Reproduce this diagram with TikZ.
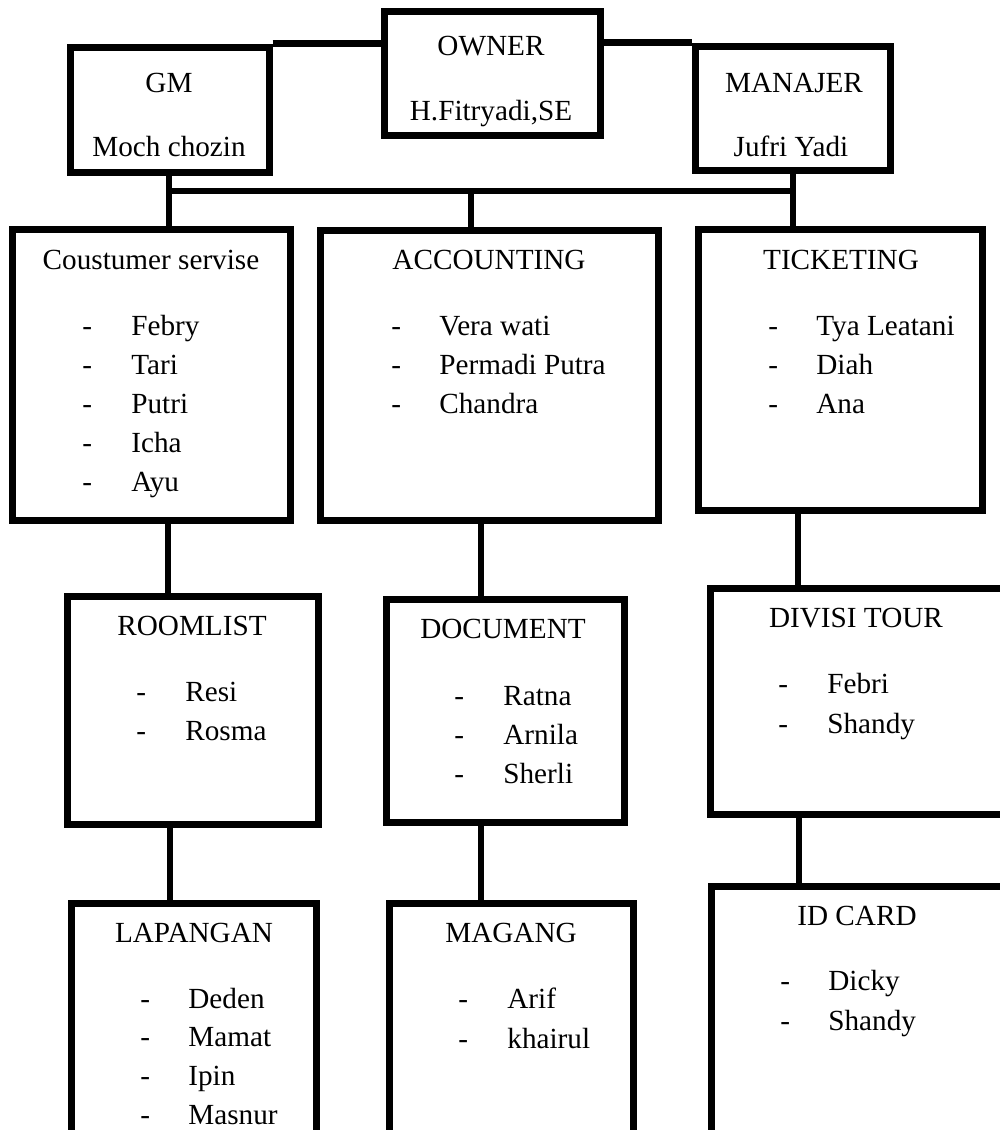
\documentclass[tikz,border=0pt]{standalone}
\usepackage{fontspec}
\setmainfont{Liberation Serif}
\usetikzlibrary{fit}
\begin{document}
\begin{tikzpicture}[x=0.5pt,y=-0.5pt,
  box/.style={draw, line width=3.5pt, inner sep=0pt},
  link/.style={line width=3.3pt},
  lbl/.style={inner sep=0pt, anchor=base, font=\fontsize{14.6}{17}\selectfont},
  itm/.style={inner sep=0pt, anchor=base west, font=\fontsize{14.6}{17}\selectfont}]
\useasboundingbox (0,0) rectangle (1000,1130);
\clip (0,0) rectangle (1000,1130);
% boxes
\node[box, fit={(70,47) (269,172)}] (gm) {};
\node[box, fit={(384,11) (600,135)}] (owner) {};
\node[box, fit={(695,46) (890,170)}] (man) {};
\node[box, fit={(12,229) (290,520)}] (cs) {};
\node[box, fit={(320,230) (658,520)}] (acc) {};
\node[box, fit={(698,229) (982,510)}] (tick) {};
\node[box, fit={(67,596) (318,824)}] (room) {};
\node[box, fit={(386,599) (624,822)}] (doc) {};
\node[box, fit={(710,588) (1020,814)}] (tour) {};
\node[box, fit={(71,903) (316,1150)}] (lap) {};
\node[box, fit={(389,903) (633,1150)}] (mag) {};
\node[box, fit={(711,886) (1020,1150)}] (idc) {};
% connector coordinates
\coordinate (b1) at (169,191);
\coordinate (b2) at (471,191);
\coordinate (b3) at (793,191);
\coordinate (c1) at (168,0);
\coordinate (c2) at (481,0);
\coordinate (c3) at (798,0);
\coordinate (d1) at (170,0);
\coordinate (d2) at (481,0);
\coordinate (d3) at (799,0);
% connectors
\draw[link] (gm.north east) -- (owner.west |- gm.north east);
\draw[link] (owner.east |- man.north west) -- (man.north west);
\draw[link] (gm.south -| b1) -- (cs.north -| b1);
\draw[link] (b1) -- (b3);
\draw[link] (man.south -| b3) -- (tick.north -| b3);
\draw[link] (b2) -- (acc.north -| b2);
\draw[link] (cs.south -| c1) -- (room.north -| c1);
\draw[link] (acc.south -| c2) -- (doc.north -| c2);
\draw[link] (tick.south -| c3) -- (tour.north -| c3);
\draw[link] (room.south -| d1) -- (lap.north -| d1);
\draw[link] (doc.south -| d2) -- (mag.north -| d2);
\draw[link] (tour.south -| d3) -- (idc.north -| d3);
% titles
\node[lbl] (tgm) at (169,92) {GM};
\node[lbl] (ngm) at (169,156) {Moch chozin};
\node[lbl] (town) at (491,55) {OWNER};
\node[lbl] (nown) at (491,120) {H.Fitryadi,SE};
\node[lbl] (tman) at (794,92) {MANAJER};
\node[lbl] (nman) at (791,156) {Jufri Yadi};
\node[lbl] (tcs) at (151,269) {Coustumer servise};
\node[lbl] (tacc) at (489,269) {ACCOUNTING};
\node[lbl] (ttick) at (841,269) {TICKETING};
\node[lbl] (troom) at (192,635) {ROOMLIST};
\node[lbl] (tdoc) at (503,638) {DOCUMENT};
\node[lbl] (ttour) at (856,627) {DIVISI TOUR};
\node[lbl] (tlap) at (194,942) {LAPANGAN};
\node[lbl] (tmag) at (511,942) {MAGANG};
\node[lbl] (tidc) at (857,925) {ID CARD};
% items
\foreach \n [count=\i] in {Febry,Tari,Putri,Icha,Ayu} {
  \node[itm] (csd\i) at (82,{335+39*(\i-1)}) {-};
  \node[itm] (csn\i) at (131,{335+39*(\i-1)}) {\n};}
\foreach \n [count=\i] in {Vera wati,Permadi Putra,Chandra} {
  \node[itm] (accd\i) at (391,{335+39*(\i-1)}) {-};
  \node[itm] (accn\i) at (439,{335+39*(\i-1)}) {\n};}
\foreach \n [count=\i] in {Tya Leatani,Diah,Ana} {
  \node[itm] (tkd\i) at (768,{335+39*(\i-1)}) {-};
  \node[itm] (tkn\i) at (816,{335+39*(\i-1)}) {\n};}
\foreach \n [count=\i] in {Resi,Rosma} {
  \node[itm] (rmd\i) at (136,{701+39*(\i-1)}) {-};
  \node[itm] (rmn\i) at (185,{701+39*(\i-1)}) {\n};}
\foreach \n [count=\i] in {Ratna,Arnila,Sherli} {
  \node[itm] (dcd\i) at (454,{705+39*(\i-1)}) {-};
  \node[itm] (dcn\i) at (503,{705+39*(\i-1)}) {\n};}
\foreach \n [count=\i] in {Febri,Shandy} {
  \node[itm] (trd\i) at (778,{693+40*(\i-1)}) {-};
  \node[itm] (trn\i) at (827,{693+40*(\i-1)}) {\n};}
\foreach \n [count=\i] in {Deden,Mamat,Ipin,Masnur} {
  \node[itm] (lpd\i) at (140,{1008+38.7*(\i-1)}) {-};
  \node[itm] (lpn\i) at (188,{1008+38.7*(\i-1)}) {\n};}
\foreach \n [count=\i] in {Arif,khairul} {
  \node[itm] (mgd\i) at (458,{1008+40*(\i-1)}) {-};
  \node[itm] (mgn\i) at (507,{1008+40*(\i-1)}) {\n};}
\foreach \n [count=\i] in {Dicky,Shandy} {
  \node[itm] (idd\i) at (780,{990+40*(\i-1)}) {-};
  \node[itm] (idn\i) at (828,{990+40*(\i-1)}) {\n};}
\end{tikzpicture}
\end{document}
